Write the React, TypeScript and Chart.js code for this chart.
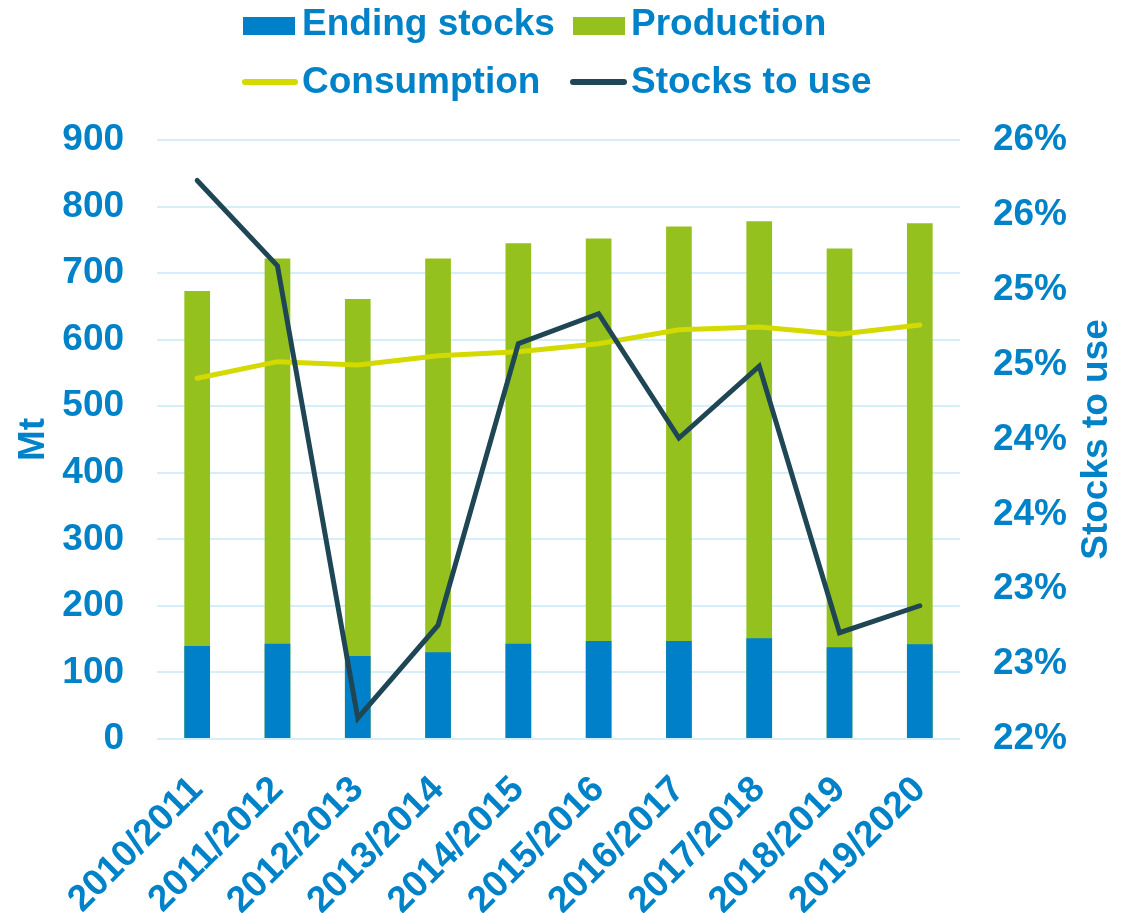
import React, { useEffect, useRef } from 'react';
import { Chart, registerables } from 'chart.js';

Chart.register(...registerables);

const categories = ['2010/2011', '2011/2012', '2012/2013', '2013/2014', '2014/2015', '2015/2016', '2016/2017', '2017/2018', '2018/2019', '2019/2020'];
const endingStocks = [139.7, 143.2, 124.7, 130.2, 143.2, 147.2, 147.2, 151.3, 137.8, 142.3];
const production = [673, 722, 661, 722, 745, 752, 770, 778, 737, 775];
const consumption = [542, 567, 562, 576, 582, 594, 615, 619, 608, 622];
const stocksToUse = [25.73, 25.16, 22.14, 22.76, 24.64, 24.84, 24.01, 24.49, 22.71, 22.89];
const leftTicks = [0, 100, 200, 300, 400, 500, 600, 700, 800, 900];
const rightTicks = [22, 22.5, 23, 23.5, 24, 24.5, 25, 25.5, 26];

const TEXT = '#0082C8';
const BLUE = '#0080C8';
const GREEN = '#95C11F';
const YELLOW = '#D4D900';
const DARK = '#1F4654';
const GRID = '#D6EDFA';
const FAMILY = '"Liberation Sans", Arial, Helvetica, sans-serif';
const FONT_SIZE = 37;
const FONT = `bold ${FONT_SIZE}px ${FAMILY}`;

const overlay = {
  id: 'overlay',
  afterDraw(chart: any) {
    const ctx = chart.ctx as CanvasRenderingContext2D;
    const area = chart.chartArea;
    const midY = (area.top + area.bottom) / 2;
    ctx.save();
    ctx.font = FONT;
    ctx.fillStyle = TEXT;
    // axis titles (both read bottom-to-top)
    ctx.textAlign = 'center';
    ctx.textBaseline = 'middle';
    ctx.save();
    ctx.translate(26, midY);
    ctx.rotate(-Math.PI / 2);
    ctx.fillText('Mt', 0, 0);
    ctx.restore();
    ctx.save();
    ctx.translate(1089, midY);
    ctx.rotate(-Math.PI / 2);
    ctx.fillText('Stocks to use', 0, 0);
    ctx.restore();

    // legend
    ctx.textAlign = 'left';
    ctx.textBaseline = 'alphabetic';
    ctx.fillStyle = BLUE;
    ctx.fillRect(235, 9, 52, 18);
    ctx.fillStyle = GREEN;
    ctx.fillRect(565, 9, 52, 18);
    ctx.lineCap = 'round';
    ctx.lineWidth = 6;
    ctx.strokeStyle = YELLOW;
    ctx.beginPath();
    ctx.moveTo(237, 74);
    ctx.lineTo(287, 74);
    ctx.stroke();
    ctx.strokeStyle = DARK;
    ctx.beginPath();
    ctx.moveTo(565, 74);
    ctx.lineTo(616, 74);
    ctx.stroke();
    ctx.fillStyle = TEXT;
    ctx.fillText('Ending stocks', 294, 27);
    ctx.fillText('Production', 623, 27);
    ctx.fillText('Consumption', 294, 85);
    ctx.fillText('Stocks to use', 623, 85);
    ctx.restore();
  },
};

export default function App() {
  const ref = useRef<HTMLCanvasElement | null>(null);

  useEffect(() => {
    document.documentElement.style.overflow = 'hidden';
    const canvas = ref.current;
    if (!canvas) return;
    const font = { family: FAMILY, size: FONT_SIZE, weight: 'bold' as const };
    const chart = new Chart(canvas, {
      type: 'bar',
      data: {
        labels: categories,
        datasets: [
          {
            type: 'line',
            label: 'Stocks to use',
            data: stocksToUse,
            yAxisID: 'y1',
            borderColor: DARK,
            backgroundColor: DARK,
            borderWidth: 5,
            pointRadius: 0,
            tension: 0,
            borderCapStyle: 'round',
            order: 0,
          } as any,
          {
            type: 'line',
            label: 'Consumption',
            data: consumption,
            yAxisID: 'y',
            borderColor: YELLOW,
            backgroundColor: YELLOW,
            borderWidth: 5,
            pointRadius: 0,
            tension: 0,
            borderCapStyle: 'round',
            order: 1,
          } as any,
          {
            type: 'bar',
            label: 'Ending stocks',
            data: endingStocks,
            yAxisID: 'y',
            backgroundColor: BLUE,
            grouped: false,
            categoryPercentage: 1,
            barPercentage: 0.32,
            order: 2,
          } as any,
          {
            type: 'bar',
            label: 'Production',
            data: production,
            yAxisID: 'y',
            backgroundColor: GREEN,
            grouped: false,
            categoryPercentage: 1,
            barPercentage: 0.32,
            order: 3,
          } as any,
        ],
      },
      options: {
        responsive: false,
        animation: false,
        layout: { padding: { left: 21.3, right: 34, top: 132, bottom: -39.1 } },
        plugins: {
          legend: { display: false },
          tooltip: { enabled: false },
          title: { display: false },
        },
        scales: {
          x: {
            grid: { display: false, drawTicks: false },
            border: { display: false },
            ticks: {
              color: TEXT,
              font,
              minRotation: 45,
              maxRotation: 45,
              autoSkip: false,
              padding: 29,
            },
          },
          y: {
            position: 'left',
            min: 0,
            max: 900,
            afterBuildTicks: (scale: any) => {
              scale.ticks = leftTicks.map((v) => ({ value: v }));
            },
            grid: { color: GRID, lineWidth: 2, drawTicks: false },
            border: { display: false },
            ticks: { color: TEXT, font, padding: 33 },
          },
          y1: {
            position: 'right',
            min: 22,
            max: 26,
            afterBuildTicks: (scale: any) => {
              scale.ticks = rightTicks.map((v) => ({ value: v }));
            },
            grid: { display: false, drawOnChartArea: false, drawTicks: false },
            border: { display: false },
            ticks: {
              color: TEXT,
              font,
              padding: 33,
              callback: (v: any) => `${Math.round(Number(v))}%`,
            },
          },
        },
      },
      plugins: [overlay],
    });
    return () => chart.destroy();
  }, []);

  return (
    <div style={{ width: 1126, height: 905 }}>
      <canvas ref={ref} width={1126} height={905} style={{ display: 'block' }} />
    </div>
  );
}
